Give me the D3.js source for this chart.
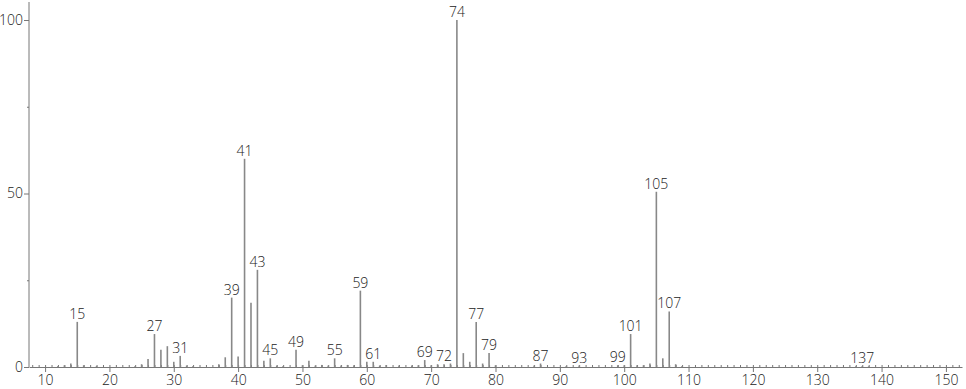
<!DOCTYPE html>
<html><head><meta charset="utf-8">
<script src="https://cdn.jsdelivr.net/npm/d3@7"></script>
<style>
html,body{margin:0;padding:0;background:#fff;}
text{font-family:"Open Sans","DejaVu Sans",sans-serif;font-weight:300;fill:#222;}
</style></head>
<body><svg id="c" width="966" height="389"></svg>
<script>
const mz = [12,13,14,15,16,18,24,25,26,27,28,29,30,31,32,33,37,38,39,40,41,42,43,44,45,46,47,49,50,51,52,53,54,55,56,57,58,59,60,61,62,63,65,67,68,69,70,71,72,73,74,75,76,77,78,79,80,86,87,91,93,99,100,101,102,103,104,105,106,107,108,109,136,137,138];
const intensity = [0.3,0.5,1,13,0.5,0.3,0.3,0.8,2.3,9.5,5,6,1.5,3.2,0.4,0.3,0.8,2.8,20,3,60,18.5,28,1.8,2.5,0.4,0.3,5,0.5,1.8,0.4,0.6,0.4,2.5,0.4,0.6,0.5,22,1.5,1.5,0.4,0.6,0.4,0.4,0.5,2,0.5,0.8,0.8,1,100,4,1.5,13,1,4,0.5,0.4,1,0.3,0.4,0.5,0.5,9.5,0.5,0.5,1,50.5,2.5,16,0.8,0.3,0.2,0.3,0.2];
const labeled = [15,27,31,39,41,43,45,49,55,59,61,69,72,74,77,79,87,93,99,101,105,107,137];
const xTicks = [10,20,30,40,50,60,70,80,90,100,110,120,130,140,150];
const yTicks = [0,50,100];

const svg = d3.select("#c");
const x = d3.scaleLinear().domain([7.5,152.5]).range([29,962]);
const y = d3.scaleLinear().domain([0,100]).range([367,20]);
const axisColor = "#777";

// x axis: major ticks below
const gx = svg.append("g").attr("transform","translate(0,367)")
  .call(d3.axisBottom(x).tickValues(xTicks).tickSize(5).tickPadding(3).tickSizeOuter(0));
gx.select(".domain").attr("stroke",axisColor);
gx.selectAll(".tick line").attr("stroke",axisColor);
gx.selectAll(".tick text").style("font-size","14px").attr("fill","#222");
// minor ticks above every integer
const minor = d3.range(8,153);
svg.append("g").attr("transform","translate(0,367)")
  .call(d3.axisTop(x).tickValues(minor).tickSize(2).tickFormat("").tickSizeOuter(0))
  .call(g=>{g.select(".domain").remove();g.selectAll(".tick line").attr("stroke",axisColor);});

// y axis
const gy = svg.append("g").attr("transform","translate(29,0)")
  .call(d3.axisLeft(y).tickValues(yTicks).tickSize(5).tickPadding(1).tickSizeOuter(0));
gy.select(".domain").attr("stroke",axisColor).attr("d","M0,2V367");
gy.selectAll(".tick line").attr("stroke",axisColor);
gy.selectAll(".tick text").style("font-size","14px").attr("fill","#222");
svg.append("g").attr("transform","translate(29,0)")
  .call(d3.axisLeft(y).tickValues([25,75]).tickSize(2).tickFormat("").tickSizeOuter(0))
  .call(g=>{g.select(".domain").remove();g.selectAll(".tick line").attr("stroke",axisColor);});

const data = mz.map((m,i)=>({m, v:intensity[i]}));
svg.append("g").selectAll("line").data(data).join("line")
  .attr("x1",d=>x(d.m)).attr("x2",d=>x(d.m))
  .attr("y1",y(0)).attr("y2",d=>y(d.v))
  .attr("stroke","#888").attr("stroke-width",1.6);

svg.append("g").selectAll("text").data(data.filter(d=>labeled.includes(d.m))).join("text")
  .attr("x",d=>x(d.m)).attr("y",d=>y(d.v)-3)
  .attr("text-anchor","middle").style("font-size","14px")
  .text(d=>d.m);
</script></body></html>
